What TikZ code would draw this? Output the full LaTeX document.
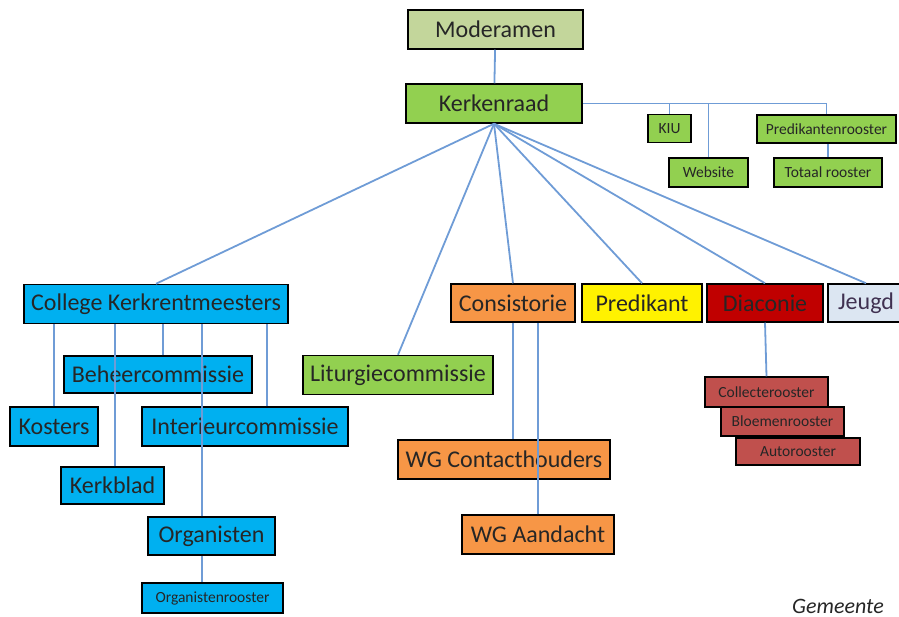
\documentclass[tikz,border=0pt]{standalone}
\usepackage{fontspec}
\setmainfont{Carlito}
\usepackage{xcolor}
\definecolor{modgreen}{HTML}{C3D69B}
\definecolor{krgreen}{HTML}{92D050}
\definecolor{ckblue}{HTML}{00B0F0}
\definecolor{conorange}{HTML}{F79646}
\definecolor{diacred}{HTML}{C00000}
\definecolor{diacsub}{HTML}{C0504D}
\definecolor{jeugdblue}{HTML}{DCE6F2}
\definecolor{jeugdtext}{HTML}{403151}
\definecolor{linkblue}{HTML}{6F9CD6}

\begin{document}
\begin{tikzpicture}[x=1pt,y=-1pt,
box/.style={draw=black,line width=1.5pt,inner sep=0pt,text=black!85,font=\fontsize{24}{27}\selectfont},
small/.style={box,font=\fontsize{15.5}{17}\selectfont},
sz/.style 2 args={minimum width=#1pt,minimum height=#2pt},
link/.style={draw=linkblue,line width=1.8pt}]
\useasboundingbox(0,0)rectangle(899,617);
% top
\node[box,fill=modgreen,sz={175}{39}](mod)at(495.5,29.5){Moderamen};
\node[box,fill=krgreen,sz={176}{39}](kr)at(494,103.5){Kerkenraad};
\node[small,fill=krgreen,sz={43}{28}](kiu)at(669.5,128.5){KIU};
\node[small,fill=krgreen,sz={79}{29}](web)at(708.5,172.5){Website};
\node[small,fill=krgreen,sz={139}{28}](pred)at(826.5,129){Predikantenrooster};
\node[small,fill=krgreen,sz={108}{29}](totaal)at(828,172.5){Totaal rooster};
% college
\node[box,fill=ckblue,sz={264}{39}](ck)at(156,304){College Kerkrentmeesters};
\node[box,fill=ckblue,sz={188}{37}](beh)at(158,374.5){Beheercommissie};
\node[box,fill=ckblue,sz={88}{39}](kos)at(54,426.5){Kosters};
\node[box,fill=ckblue,sz={206}{39}](int)at(245,426.5){Interieurcommissie};
\node[box,fill=ckblue,sz={103}{37}](kb)at(112.5,485.5){Kerkblad};
\node[box,fill=ckblue,sz={127}{38}](org)at(211.5,536){Organisten};
\node[small,fill=ckblue,sz={141}{30}](orgr)at(212.5,598){Organistenrooster};
% middle
\node[box,fill=krgreen,sz={190}{39}](lit)at(398,375){Liturgiecommissie};
\node[box,fill=conorange,sz={124}{38}](con)at(513,303){Consistorie};
\node[box,fill=conorange,sz={212}{39}](wgc)at(504,459.5){WG Contacthouders};
\node[box,fill=conorange,sz={152}{39}](wga)at(538,534.5){WG Aandacht};
\node[box,fill=yellow,sz={120}{38}](predk)at(642,303){Predikant};
% diaconie
\node[box,fill=diacred,sz={116}{38}](diac)at(765,303){Diaconie};
\node[small,fill=diacsub,sz={123}{30}](col)at(766.5,392){Collecterooster};
\node[small,fill=diacsub,sz={123}{29}](blo)at(782.5,421.5){Bloemenrooster};
\node[small,fill=diacsub,sz={124}{27}](auto)at(798,451.5){Autorooster};
\node[box,fill=jeugdblue,text=jeugdtext,sz={76}{38}](jeugd)at(866,303){Jeugd};
\node[font=\fontsize{22}{26}\selectfont\itshape,text=black!85](gem)at(838,606){Gemeente};
% links
\draw[link](mod)--(kr);
\draw[link](kr.east)-|(pred.north);
\draw[link](kiu.north)--(kiu.north|-kr.east)(web.north)--(web.north|-kr.east);
\draw[link](totaal.north)--(totaal.north|-pred.south);
\foreach \t in {ck,lit,con,predk,diac,jeugd}\draw[link](kr.south)--(\t.north);
\draw[link](kos.north)--(kos.north|-ck.south);
\draw[link]([xshift=2.5pt]kb.north)--([xshift=2.5pt]kb.north|-ck.south);
\draw[link]([xshift=5pt]beh.north)--([xshift=5pt]beh.north|-ck.south);
\draw[link]([xshift=-9.5pt]org.north)--([xshift=-9.5pt]org.north|-ck.south);
\draw[link]([xshift=22pt]int.north)--([xshift=22pt]int.north|-ck.south);
\draw[link]([xshift=-9.5pt]org.south)--([xshift=-10.5pt]orgr.north);
\draw[link](con.south)--(con.south|-wgc.north);
\draw[link](wga.north)--(wga.north|-con.south);
\draw[link](diac.south)--(col.north);
\end{tikzpicture}
\end{document}
